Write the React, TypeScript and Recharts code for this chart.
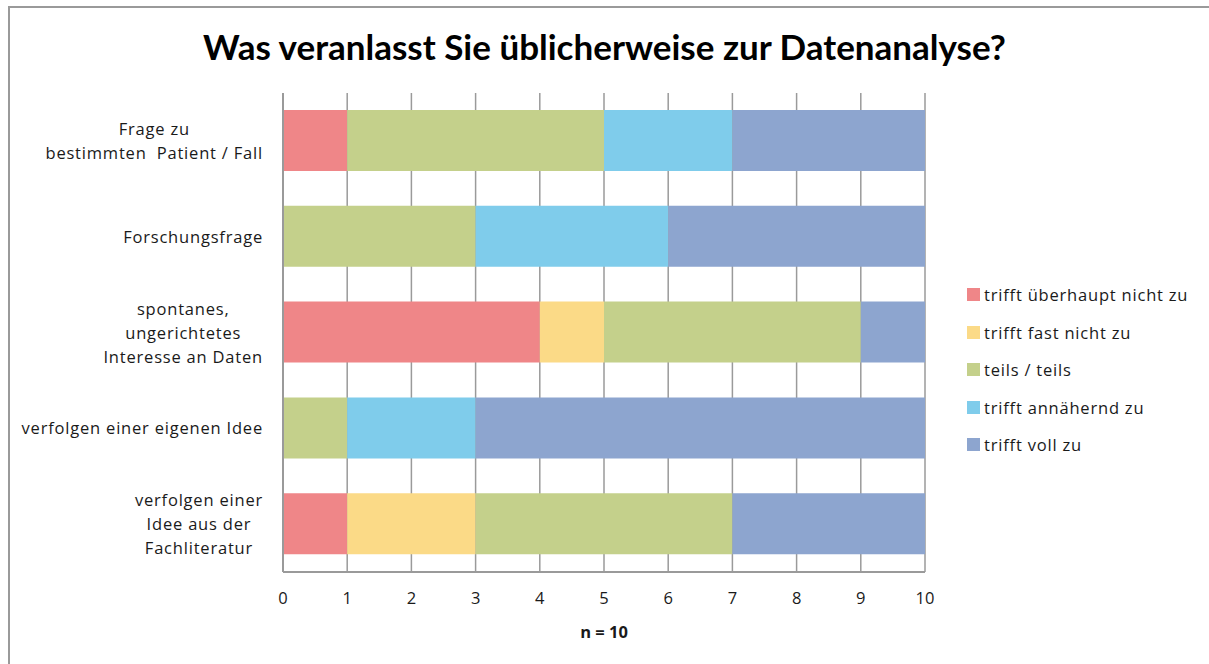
import { Bar, BarChart, CartesianGrid, XAxis, YAxis } from "recharts";

const categories = [
  "Frage zu\nbestimmten  Patient / Fall",
  "Forschungsfrage",
  "spontanes,\nungerichtetes\nInteresse an Daten",
  "verfolgen einer eigenen Idee",
  "verfolgen einer\nIdee aus der\nFachliteratur",
];

const seriesNames = [
  "trifft überhaupt nicht zu",
  "trifft fast nicht zu",
  "teils / teils",
  "trifft annähernd zu",
  "trifft voll zu",
];

const ueberhauptNicht = [1, 0, 4, 0, 1];
const fastNicht = [0, 0, 1, 0, 2];
const teilsTeils = [4, 3, 4, 1, 4];
const annaehernd = [2, 3, 0, 2, 0];
const vollZu = [3, 4, 1, 7, 3];

const xTicks = [0, 1, 2, 3, 4, 5, 6, 7, 8, 9, 10];

const colors = ["#EF8688", "#FBDA87", "#C4D08B", "#7FCCEB", "#8DA5CF"];
const keys = ["s0", "s1", "s2", "s3", "s4"];

const rows = categories.map((name, i) => ({
  name,
  s0: ueberhauptNicht[i],
  s1: fastNicht[i],
  s2: teilsTeils[i],
  s3: annaehernd[i],
  s4: vollZu[i],
}));

const FONT = "'Open Sans', Lato, sans-serif";
const GRID = "#9a9a9a";
const TEXT = "#1a1a1a";

function CategoryTick(props: any) {
  const { x, y, payload } = props;
  const lines = String(payload.value).split("\n");
  const w = 262;
  return (
    <foreignObject x={x - w - 12} y={y - 50} width={w} height={100}>
      <div
        style={{
          width: w,
          height: 100,
          display: "flex",
          alignItems: "center",
          justifyContent: "flex-end",
          fontFamily: FONT,
          fontSize: 16.5,
          letterSpacing: 0.8,
          lineHeight: "24px",
          color: TEXT,
          textAlign: "center",
          whiteSpace: "pre",
        }}
      >
        <div>
          {lines.map((l, i) => (
            <div key={i}>{l}</div>
          ))}
        </div>
      </div>
    </foreignObject>
  );
}

function LegendBox() {
  return (
    <div style={{ position: "absolute", left: 967, top: 276, fontFamily: FONT, fontSize: 16.5, letterSpacing: 0.8, color: TEXT }}>
      {seriesNames.map((n, i) => (
        <div key={n} style={{ display: "flex", alignItems: "center", height: 37.5 }}>
          <span style={{ width: 13, height: 13, background: colors[i], marginRight: 4, display: "inline-block" }} />
          <span>{n}</span>
        </div>
      ))}
    </div>
  );
}

export default function App() {
  return (
    <div style={{ position: "absolute", left: 0, top: 0, width: 1209, height: 664, background: "#fff", overflow: "hidden" }}>
      <div
        style={{
          position: "absolute",
          left: 8,
          top: 6,
          width: 1240,
          height: 700,
          borderLeft: `2px solid ${GRID}`,
          borderTop: `2px solid ${GRID}`,
        }}
      />
      <div
        style={{
          position: "absolute",
          left: 0,
          width: 1209,
          top: 25,
          textAlign: "center",
          fontFamily: "Lato, sans-serif",
          fontWeight: 700,
          fontSize: 35,
          color: "#000",
        }}
      >
        Was veranlasst Sie üblicherweise zur Datenanalyse?
      </div>
      <BarChart
        width={1209}
        height={664}
        data={rows}
        layout="vertical"
        margin={{ top: 93, right: 284, bottom: 62, left: 0 }}
        style={{ position: "absolute", left: 0, top: 0 }}
      >
        <CartesianGrid horizontal={false} vertical stroke={GRID} strokeWidth={1.5} />
        <XAxis
          type="number"
          domain={[0, 10]}
          ticks={xTicks}
          interval={0}
          tickLine={false}
          tickSize={0}
          tickMargin={20}
          axisLine={{ stroke: GRID, strokeWidth: 2 }}
          tick={{ fill: TEXT, fontSize: 16.5, fontFamily: FONT }}
        />
        <YAxis
          type="category"
          dataKey="name"
          width={283}
          tickLine={false}
          axisLine={{ stroke: GRID, strokeWidth: 2 }}
          tick={<CategoryTick />}
        />
        {keys.map((k, i) => (
          <Bar
            key={k}
            dataKey={k}
            name={seriesNames[i]}
            stackId="a"
            fill={colors[i]}
            barSize={61}
            isAnimationActive={false}
          />
        ))}
      </BarChart>
      <LegendBox />
      <div
        style={{
          position: "absolute",
          left: 283,
          width: 642,
          top: 620,
          textAlign: "center",
          fontFamily: FONT,
          fontWeight: 700,
          fontSize: 16.5,
          color: TEXT,
        }}
      >
        n = 10
      </div>
    </div>
  );
}
